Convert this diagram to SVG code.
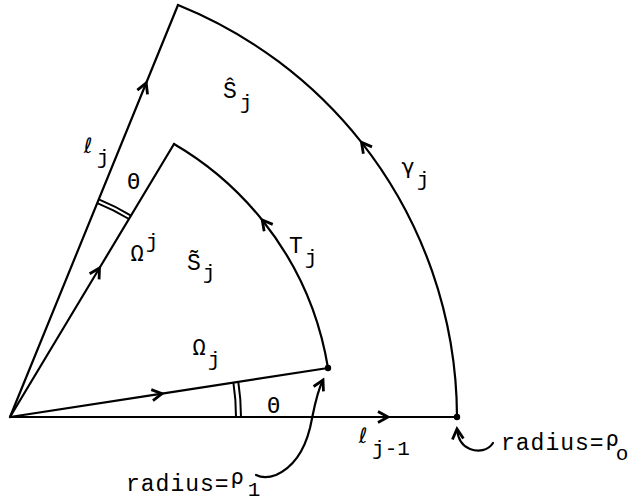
<svg xmlns="http://www.w3.org/2000/svg" width="628" height="502" viewBox="0 0 628 502">
<style>
.ln{fill:none;stroke:#000;stroke-width:2.2;stroke-linecap:round;stroke-linejoin:round}
.am{fill:none;stroke:#000;stroke-width:2}
.t{font-family:"Liberation Mono",monospace;font-size:23px;fill:#000}
.s{font-family:"Liberation Mono",monospace;font-size:21px;fill:#000}
.g{font-family:"DejaVu Sans Mono","DejaVu Sans",monospace;font-size:22px;fill:#000}
.l{font-family:"DejaVu Sans Mono","DejaVu Sans",monospace;font-size:21px;fill:#000}
.r{letter-spacing:1px}
</style>
<defs>
<marker id="ah" markerUnits="userSpaceOnUse" viewBox="-14 -8 18 16" markerWidth="18" markerHeight="16" refX="0" refY="0" orient="auto">
<path d="M-10,-5.5 L0,0 L-10,5.5" fill="none" stroke="#000" stroke-width="2.8" stroke-linejoin="miter"/>
</marker>
</defs>
<rect width="628" height="502" fill="#fff"/>
<g id="connectors">
<path id="l_j" class="ln" d="M10,417 L146.2,83 L178,5" marker-mid="url(#ah)"/>
<path id="Omega_sup_j" class="ln" d="M10,417 L99.5,268 L174,144" marker-mid="url(#ah)"/>
<path id="Omega_j" class="ln" d="M10,417 L162,393.6 L328,368" marker-mid="url(#ah)"/>
<path id="l_j-1" class="ln" d="M10,417 L388,417 L457,417" marker-mid="url(#ah)"/>
<path id="T_j" class="ln" d="M328,368 A320,320 0 0 0 262.2,220 A320,320 0 0 0 174,144" marker-mid="url(#ah)"/>
<path id="gamma_j" class="ln" d="M457,417 A446,446 0 0 0 361.5,142.4 A446,446 0 0 0 178,5" marker-mid="url(#ah)"/>
<path id="ptr_rho1" class="ln" d="M256,475 C262,478 268,478 276,475 C296,466 305,448 310,428 C314,410 316,394 323,380" marker-end="url(#ah)"/>
<path id="ptr_rho0" class="ln" d="M493,443 C488,451 478,452 470,449 C462,446 458,440 457,429" marker-end="url(#ah)"/>
</g>
<g id="angle_upper">
<path class="am" d="M98.8,199.4 A235,235 0 0 1 131,215.6"/>
<path class="am" d="M97.3,203.1 A231,231 0 0 1 129,219"/>
</g>
<g id="angle_lower">
<path class="am" d="M233.4,382.6 A226,226 0 0 1 236,417"/>
<path class="am" d="M238.3,381.8 A231,231 0 0 1 241,417"/>
</g>
<g id="vertices">
<circle cx="328" cy="368" r="3.2"/>
<circle cx="457" cy="417" r="3.2"/>
</g>
<g id="label_S_hat">
<text class="t" x="230" y="98" text-anchor="middle">Ŝ</text>
<text class="s" x="246" y="108.5" text-anchor="middle">j</text>
</g>
<g id="label_l_j">
<text class="l" x="88" y="153" text-anchor="middle">ℓ</text>
<text class="s" x="103" y="163.5" text-anchor="middle">j</text>
</g>
<g id="label_theta_upper">
<text class="g" x="133.5" y="189" text-anchor="middle">Θ</text>
</g>
<g id="label_Omega_sup">
<text class="g" x="137" y="261" text-anchor="middle">Ω</text>
<text class="s" x="152" y="248" text-anchor="middle">j</text>
</g>
<g id="label_S_tilde">
<text class="t" x="194" y="270" text-anchor="middle">S̃</text>
<text class="s" x="209" y="278.5" text-anchor="middle">j</text>
</g>
<g id="label_T_j">
<text class="t" x="296" y="253" text-anchor="middle">T</text>
<text class="s" x="311" y="263.5" text-anchor="middle">j</text>
</g>
<g id="label_gamma_j">
<text class="g" x="408" y="174" text-anchor="middle">γ</text>
<text class="s" x="423" y="185.5" text-anchor="middle">j</text>
</g>
<g id="label_Omega_j">
<text class="g" x="199" y="355" text-anchor="middle">Ω</text>
<text class="s" x="214" y="365.5" text-anchor="middle">j</text>
</g>
<g id="label_theta_lower">
<text class="g" x="273.5" y="413" text-anchor="middle">Θ</text>
</g>
<g id="label_l_j-1">
<text class="l" x="363" y="443" text-anchor="middle">ℓ</text>
<text class="s" x="391" y="455" text-anchor="middle">j-1</text>
</g>
<g id="label_radius_rho1">
<text class="t r" x="126" y="491">radius=</text>
<text class="g" x="237" y="484" text-anchor="middle">ρ</text>
<text class="s" x="254" y="496" text-anchor="middle">1</text>
</g>
<g id="label_radius_rho0">
<text class="t r" x="501" y="450">radius=</text>
<text class="g" x="612" y="446" text-anchor="middle">ρ</text>
<text class="s" x="622" y="460" text-anchor="middle">o</text>
</g>
</svg>
